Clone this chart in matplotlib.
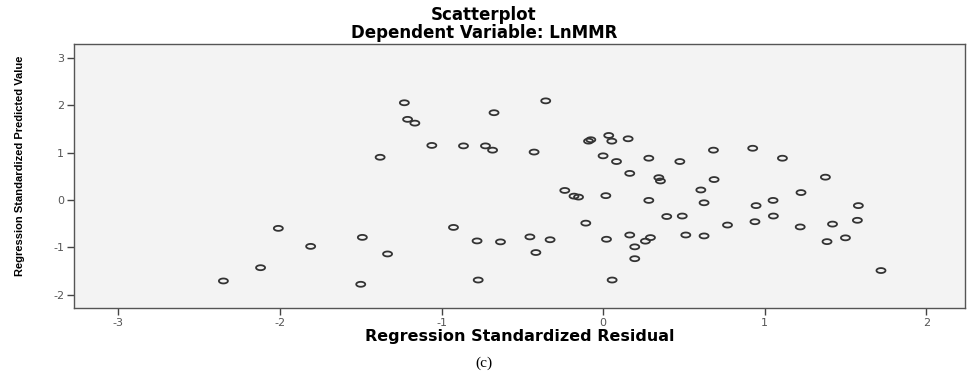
import numpy as np
import matplotlib
matplotlib.use('Agg')
import matplotlib.pyplot as plt
from matplotlib.path import Path

plt.rcParams['axes.unicode_minus'] = False

# Regression standardized residual (x) and predicted value (y)
residual = [
    -2.01, -1.81, -2.12, -2.35,
    -1.23, -0.355, -0.675, -1.21, -1.165, -1.06, -0.864, -0.728, -0.684, -0.427, -1.38,
    -0.076, -0.09, 0.035, 0.054, 0.155, 0.0, 0.083, 0.165,
    -0.237, -0.18, -0.152, 0.017, -0.107,
    -0.926, -1.49, -0.78, -0.635, -0.453, -0.328, 0.021, 0.165,
    -1.334, -0.416, -1.50, -0.773, 0.056, 0.196, 0.196,
    0.283, 0.475, 0.683, 0.926, 1.11, 0.345, 0.355, 0.687, 1.376,
    0.605, 1.225, 0.283, 0.625, 1.052, 0.947, 1.58,
    0.394, 0.49, 1.054, 0.94, 1.574, 0.77, 1.22, 1.42,
    0.293, 0.262, 0.512, 0.625, 1.386, 1.50, 1.72,
]
predicted = [
    -0.60, -0.98, -1.43, -1.71,
    2.05, 2.09, 1.84, 1.70, 1.62, 1.15, 1.14, 1.14, 1.05, 1.01, 0.90,
    1.27, 1.24, 1.36, 1.24, 1.29, 0.93, 0.81, 0.56,
    0.20, 0.08, 0.06, 0.09, -0.49,
    -0.58, -0.79, -0.865, -0.885, -0.78, -0.84, -0.83, -0.74,
    -1.14, -1.11, -1.78, -1.69, -1.69, -0.99, -1.24,
    0.88, 0.81, 1.05, 1.09, 0.88, 0.47, 0.40, 0.43, 0.48,
    0.21, 0.155, -0.01, -0.06, -0.01, -0.12, -0.12,
    -0.35, -0.34, -0.34, -0.46, -0.43, -0.53, -0.57, -0.51,
    -0.795, -0.87, -0.74, -0.76, -0.88, -0.80, -1.49,
]
x_ticks = [-3, -2, -1, 0, 1, 2]
y_ticks = [-2, -1, 0, 1, 2, 3]

# flattened open-circle marker (the original picture is stretched sideways)
t = np.linspace(0, 2 * np.pi, 60)
ellipse = Path(np.column_stack([np.cos(t), 0.55 * np.sin(t)]), closed=True)

fig = plt.figure(figsize=(9.68, 3.75), dpi=100)
ax = fig.add_axes([0.0764, 0.1787, 0.9205, 0.704])
ax.set_facecolor('#f3f3f3')

ax.scatter(residual, predicted, marker=ellipse, s=42, facecolors='none',
           edgecolors='#333333', linewidths=1.3)

ax.set_xlim(-3.275, 2.24)
ax.set_ylim(-2.28, 3.29)
ax.set_xticks(x_ticks)
ax.set_yticks(y_ticks)
ax.tick_params(labelsize=8, labelcolor='#555555', color='#444444',
               length=5, width=1, pad=2)
for s in ax.spines.values():
    s.set_color('#555555')
    s.set_linewidth(1)

ax.set_xlabel('Regression Standardized Residual', fontsize=11.5, fontweight='bold',
              family='DejaVu Sans', va='center')
ax.xaxis.set_label_coords(0.5, -0.108)
ax.set_ylabel('Regression Standardized Predicted Value', fontsize=8,
              family='Liberation Sans', fontweight='bold', va='center')
ax.yaxis.set_label_coords(-0.0606, 0.54)

fig.text(0.5, 0.96, 'Scatterplot', ha='center', va='center', fontsize=12,
         fontweight='bold', family='DejaVu Sans')
fig.text(0.5, 0.912, 'Dependent Variable: LnMMR', ha='center', va='center',
         fontsize=12, fontweight='bold', family='DejaVu Sans')
fig.text(0.5, 0.03, '(c)', ha='center', va='center', fontsize=11,
         family='Liberation Serif')

plt.savefig('out.png', dpi=100)
